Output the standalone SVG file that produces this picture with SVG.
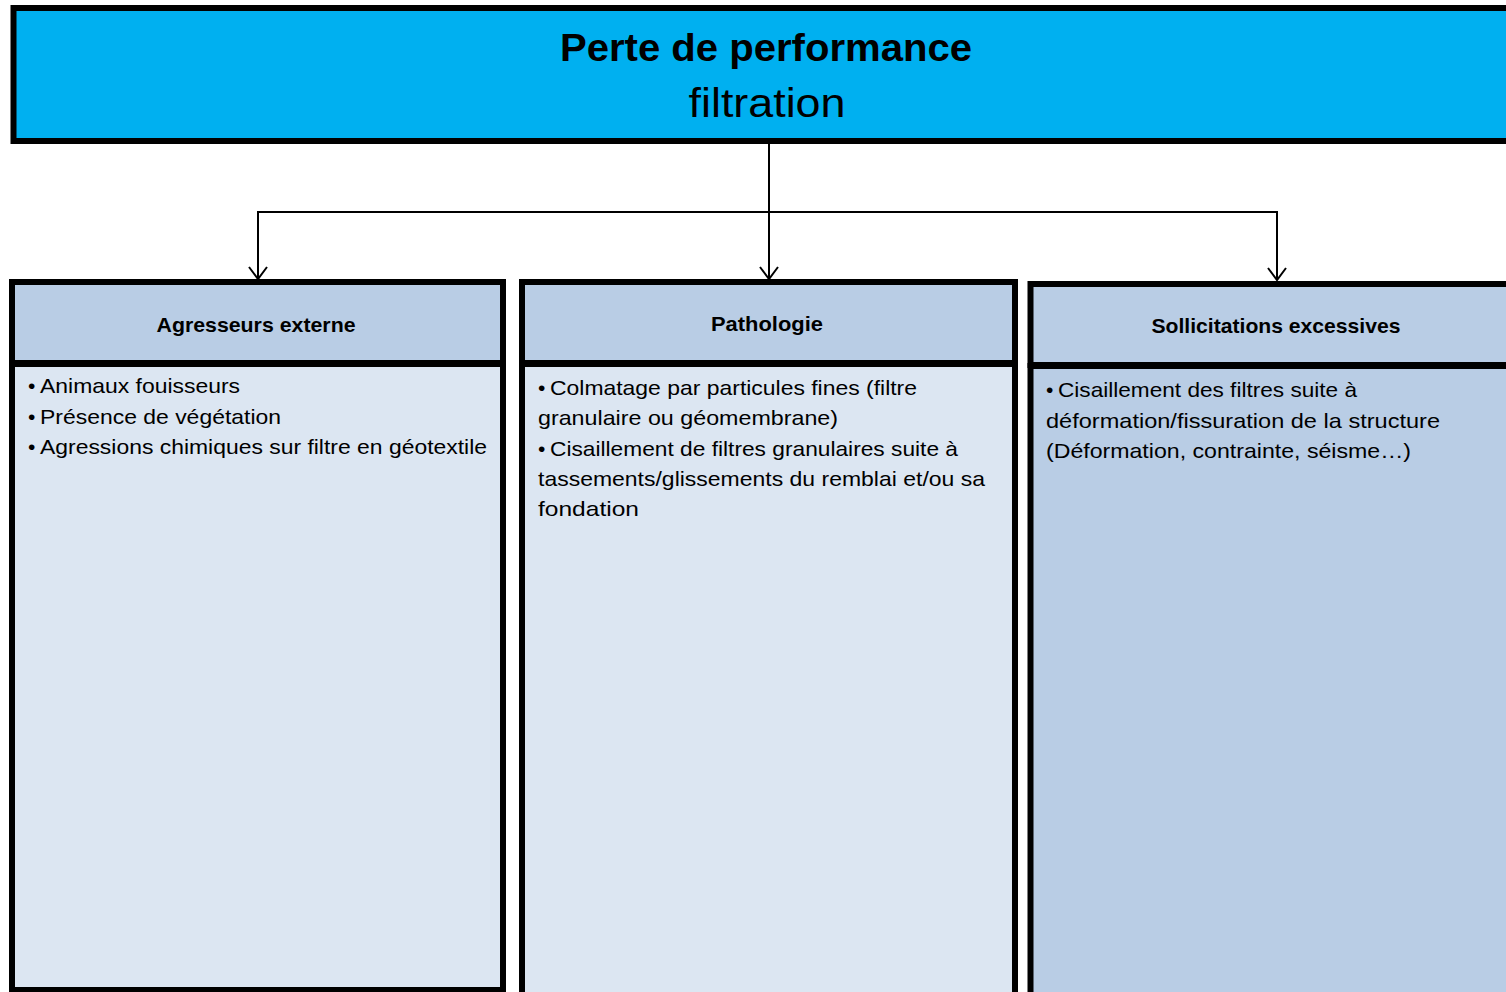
<svg xmlns="http://www.w3.org/2000/svg" width="1506" height="992" viewBox="0 0 1506 992">
<style>
.box{stroke:#000;stroke-width:6}
.hdr{fill:#B9CDE5}
.body{fill:#DCE6F2}
.t{font-family:"Liberation Sans",Arial,sans-serif;fill:#000}
.h{font-size:21px;font-weight:bold;text-anchor:middle}
.b{font-size:21px}
.conn{fill:none;stroke:#000;stroke-width:2}
</style>
<defs>
<marker id="arr" markerUnits="userSpaceOnUse" markerWidth="24" markerHeight="24" refX="22" refY="12" orient="auto" viewBox="0 0 24 24">
<path d="M10 3 L22 12 L10 21" fill="none" stroke="#000" stroke-width="2"/>
</marker>
</defs>
<rect width="1506" height="992" fill="#fff"/>
<g id="top">
<rect class="box" x="13.5" y="8" width="1520" height="133" fill="#00B0F0"/>
<text class="t" x="766" y="61" font-size="39" font-weight="bold" text-anchor="middle" textLength="412" lengthAdjust="spacingAndGlyphs">Perte de performance</text>
<text class="t" x="767" y="117" font-size="40" text-anchor="middle" textLength="157" lengthAdjust="spacingAndGlyphs">filtration</text>
</g>
<g id="connectors">
<path class="conn" d="M769 144 V279" marker-end="url(#arr)"/>
<path class="conn" d="M769 212 H258 V279" marker-end="url(#arr)"/>
<path class="conn" d="M769 212 H1277 V280" marker-end="url(#arr)"/>
</g>
<g id="agresseurs">
<rect class="box body" x="12" y="364" width="491" height="626" stroke-width="5"/>
<rect class="box hdr" x="12" y="282" width="491" height="81"/>
<text class="t h" x="256" y="332" textLength="199" lengthAdjust="spacingAndGlyphs">Agresseurs externe</text>
<text class="t b" x="28" y="393">•</text><text class="t b" x="40" y="393" textLength="200" lengthAdjust="spacingAndGlyphs">Animaux fouisseurs</text>
<text class="t b" x="28" y="424">•</text><text class="t b" x="40" y="424" textLength="241" lengthAdjust="spacingAndGlyphs">Présence de végétation</text>
<text class="t b" x="28" y="454">•</text><text class="t b" x="40" y="454" textLength="447" lengthAdjust="spacingAndGlyphs">Agressions chimiques sur filtre en géotextile</text>
</g>
<g id="pathologie">
<rect class="box body" x="522" y="364" width="493" height="640"/>
<rect class="box hdr" x="522" y="282" width="493" height="81"/>
<text class="t h" x="767" y="331" textLength="112" lengthAdjust="spacingAndGlyphs">Pathologie</text>
<text class="t b" x="538" y="395">•</text><text class="t b" x="550" y="395" textLength="367" lengthAdjust="spacingAndGlyphs">Colmatage par particules fines (filtre</text>
<text class="t b" x="538" y="425" textLength="300" lengthAdjust="spacingAndGlyphs">granulaire ou géomembrane)</text>
<text class="t b" x="538" y="456">•</text><text class="t b" x="550" y="456" textLength="408" lengthAdjust="spacingAndGlyphs">Cisaillement de filtres granulaires suite à</text>
<text class="t b" x="538" y="486" textLength="447" lengthAdjust="spacingAndGlyphs">tassements/glissements du remblai et/ou sa</text>
<text class="t b" x="538" y="516" textLength="101" lengthAdjust="spacingAndGlyphs">fondation</text>
</g>
<g id="sollicitations">
<rect class="box hdr" x="1030.5" y="366" width="500" height="640"/>
<rect class="box hdr" x="1030.5" y="284" width="500" height="81"/>
<text class="t h" x="1276" y="333" textLength="249" lengthAdjust="spacingAndGlyphs">Sollicitations excessives</text>
<text class="t b" x="1046" y="397">•</text><text class="t b" x="1058" y="397" textLength="299" lengthAdjust="spacingAndGlyphs">Cisaillement des filtres suite à</text>
<text class="t b" x="1046" y="428" textLength="394" lengthAdjust="spacingAndGlyphs">déformation/fissuration de la structure</text>
<text class="t b" x="1046" y="458" textLength="365" lengthAdjust="spacingAndGlyphs">(Déformation, contrainte, séisme…)</text>
</g>
</svg>
